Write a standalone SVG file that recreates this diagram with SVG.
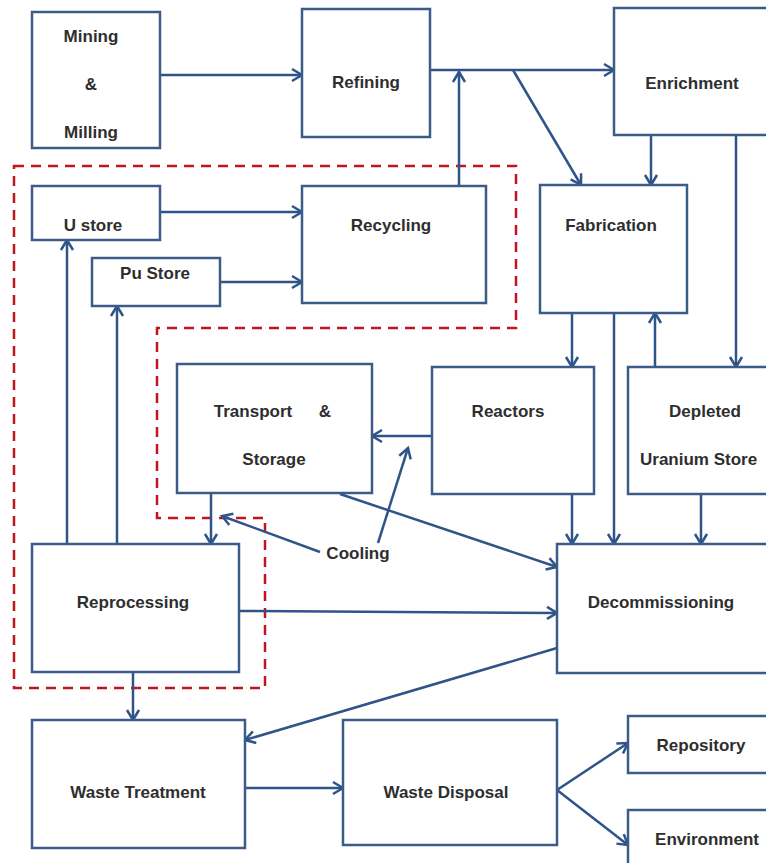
<svg xmlns="http://www.w3.org/2000/svg" width="766" height="863" viewBox="0 0 766 863">
<defs>
<style>
.box{fill:#ffffff;stroke:#3b5b88;stroke-width:2.5}
.lbl{font-family:"Liberation Sans",Arial,sans-serif;font-weight:bold;font-size:17px;fill:#2e2e2e;text-anchor:middle}
.c{fill:none;stroke:#2f5489;stroke-width:2.5;marker-end:url(#ah)}
.zone{fill:none;stroke:#c0141e;stroke-width:2.5;stroke-dasharray:10 7}
</style>
<marker id="ah" markerUnits="userSpaceOnUse" markerWidth="14" markerHeight="16" refX="11" refY="7" orient="auto" viewBox="0 0 14 14">
<path d="M1,1 L11,7 L1,13" fill="none" stroke="#2f5489" stroke-width="2.5"/>
</marker>
</defs>
<rect width="766" height="863" fill="#ffffff"/>

<g id="boundary">
<path class="zone" d="M14,166 L516,166 L516,328 L157,328 L157,518 L265,518 L265,688 L14,688 Z"/>
</g>

<g id="connectors">
<line class="c" x1="160" y1="75" x2="302" y2="75"/>
<line class="c" x1="430" y1="70" x2="614" y2="70"/>
<line class="c" x1="459" y1="185" x2="459" y2="72"/>
<line class="c" x1="513" y1="70" x2="581" y2="185"/>
<line class="c" x1="651" y1="135" x2="651" y2="185"/>
<line class="c" x1="736" y1="135" x2="736" y2="367"/>
<line class="c" x1="160" y1="212" x2="302" y2="212"/>
<line class="c" x1="220" y1="282" x2="302" y2="282"/>
<line class="c" x1="67" y1="544" x2="67" y2="240"/>
<line class="c" x1="117" y1="544" x2="117" y2="306"/>
<line class="c" x1="572" y1="313" x2="572" y2="367"/>
<line class="c" x1="614" y1="313" x2="614" y2="544"/>
<line class="c" x1="655" y1="367" x2="655" y2="313"/>
<line class="c" x1="432" y1="436" x2="372" y2="436"/>
<line class="c" x1="572" y1="494" x2="572" y2="544"/>
<line class="c" x1="701" y1="494" x2="701" y2="544"/>
<line class="c" x1="211" y1="493" x2="211" y2="544"/>
<line class="c" x1="340" y1="494" x2="557" y2="567"/>
<line class="c" x1="378" y1="543" x2="408" y2="448"/>
<line class="c" x1="320" y1="552" x2="222" y2="516"/>
<line class="c" x1="239" y1="611" x2="557" y2="613"/>
<line class="c" x1="133" y1="672" x2="133" y2="720"/>
<line class="c" x1="557" y1="648" x2="245" y2="740"/>
<line class="c" x1="245" y1="788" x2="343" y2="788"/>
<line class="c" x1="557" y1="790" x2="628" y2="743"/>
<line class="c" x1="557" y1="790" x2="628" y2="845"/>
</g>

<g id="mining">
<rect class="box" x="32" y="12" width="128" height="136"/>
<text class="lbl" x="91" y="42">Mining</text>
<text class="lbl" x="91" y="90">&amp;</text>
<text class="lbl" x="91" y="138">Milling</text>
</g>
<g id="refining">
<rect class="box" x="302" y="9" width="128" height="128"/>
<text class="lbl" x="366" y="88">Refining</text>
</g>
<g id="enrichment">
<rect class="box" x="614" y="8" width="170" height="127"/>
<text class="lbl" x="692" y="89">Enrichment</text>
</g>
<g id="ustore">
<rect class="box" x="32" y="186" width="128" height="54"/>
<text class="lbl" x="93" y="231">U store</text>
</g>
<g id="pustore">
<rect class="box" x="92" y="258" width="128" height="48"/>
<text class="lbl" x="155" y="279">Pu Store</text>
</g>
<g id="recycling">
<rect class="box" x="302" y="186" width="184" height="117"/>
<text class="lbl" x="391" y="231">Recycling</text>
</g>
<g id="fabrication">
<rect class="box" x="540" y="185" width="147" height="128"/>
<text class="lbl" x="611" y="231">Fabrication</text>
</g>
<g id="transport">
<rect class="box" x="177" y="364" width="195" height="129"/>
<text class="lbl" x="253" y="417">Transport<tspan x="325">&amp;</tspan></text>
<text class="lbl" x="274" y="465">Storage</text>
</g>
<g id="reactors">
<rect class="box" x="432" y="367" width="162" height="127"/>
<text class="lbl" x="508" y="417">Reactors</text>
</g>
<g id="depleted">
<rect class="box" x="628" y="367" width="160" height="127"/>
<text class="lbl" x="705" y="417">Depleted</text>
<text class="lbl" x="640" y="465" style="text-anchor:start">Uranium Store</text>
</g>
<g id="cooling">
<text class="lbl" x="358" y="559">Cooling</text>
</g>
<g id="reprocessing">
<rect class="box" x="32" y="544" width="207" height="128"/>
<text class="lbl" x="133" y="608">Reprocessing</text>
</g>
<g id="decommissioning">
<rect class="box" x="557" y="544" width="230" height="129"/>
<text class="lbl" x="661" y="608">Decommissioning</text>
</g>
<g id="wastetreatment">
<rect class="box" x="32" y="720" width="213" height="128"/>
<text class="lbl" x="138" y="798">Waste Treatment</text>
</g>
<g id="wastedisposal">
<rect class="box" x="343" y="720" width="214" height="125"/>
<text class="lbl" x="446" y="798">Waste Disposal</text>
</g>
<g id="repository">
<rect class="box" x="628" y="716" width="160" height="57"/>
<text class="lbl" x="701" y="751">Repository</text>
</g>
<g id="environment">
<rect class="box" x="628" y="810" width="160" height="70"/>
<text class="lbl" x="707" y="845">Environment</text>
</g>
</svg>
